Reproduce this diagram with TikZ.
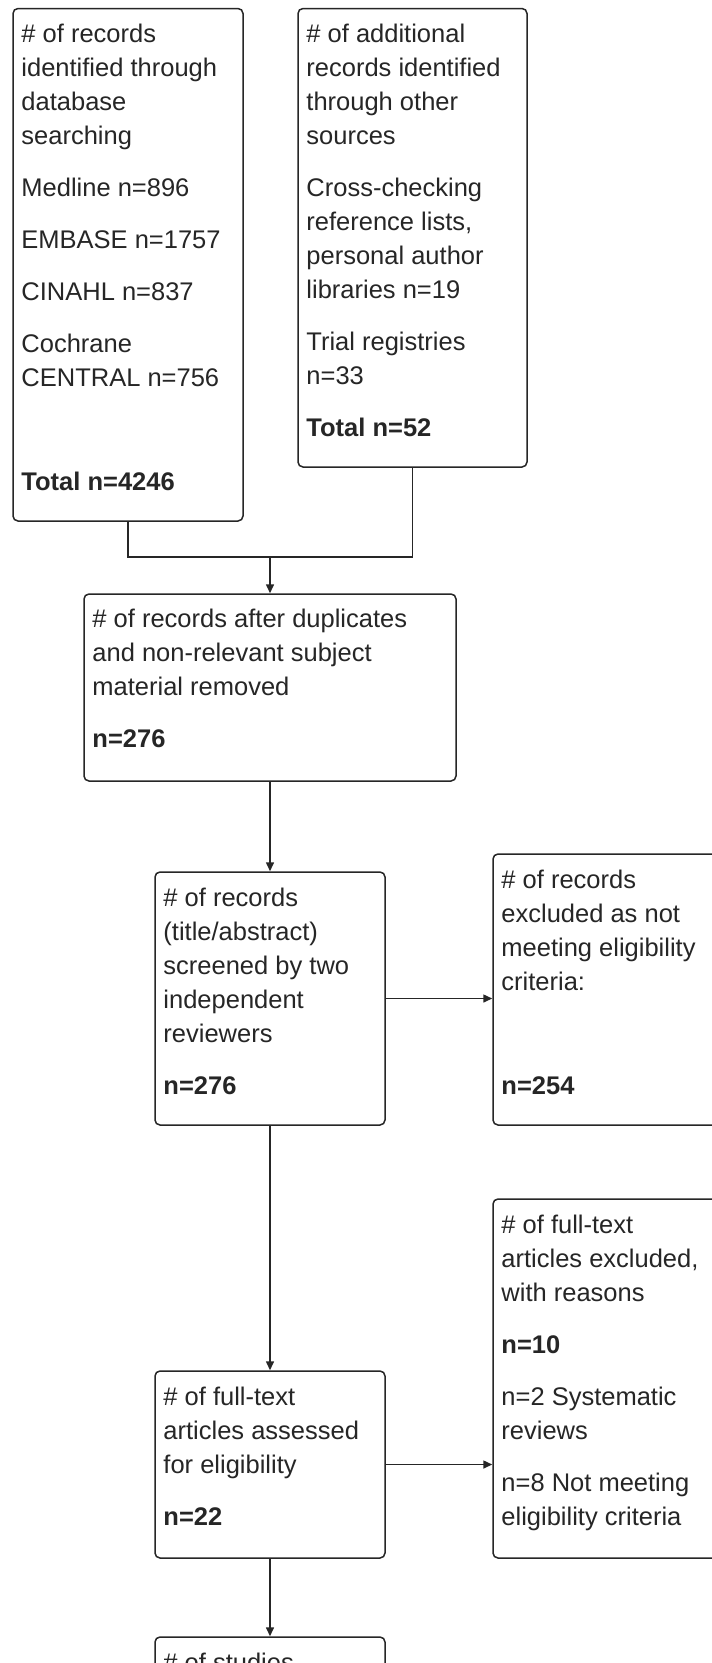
\documentclass[tikz,border=0pt]{standalone}
\usepackage{fontspec}
\setmainfont{Liberation Sans}
\usetikzlibrary{arrows.meta}
\begin{document}
\begin{tikzpicture}[x=1pt,y=-1pt,
  box/.style={draw=black!85, line width=1.5pt, rounded corners=5pt, inner sep=0pt, fill=white},
  txt/.style={anchor=north west, align=left, inner sep=0pt, text=black!85, font=\fontsize{25.5}{34}\selectfont},
  arr/.style={-{Triangle[length=9pt,width=8pt]}},
  conn/.style={draw=black!85, line width=1.5pt}]
\clip (0,0) rectangle (712,1663);
\fill[white] (0,0) rectangle (712,1663);
% boxes
\node[box, minimum width=230pt, minimum height=512.5pt] (A) at (128,264.75) {};
\node[box, minimum width=229pt, minimum height=458.5pt] (B) at (412.5,237.75) {};
\node[box, minimum width=372pt, minimum height=187pt] (C) at (270,687.5) {};
\node[box, minimum width=230pt, minimum height=253pt] (D) at (270,998.5) {};
\node[box, minimum width=267pt, minimum height=271pt] (E) at (626.5,989.5) {};
\node[box, minimum width=230pt, minimum height=187pt] (F) at (270,1464.5) {};
\node[box, minimum width=267pt, minimum height=359pt] (G) at (626.5,1378.5) {};
\node[box, minimum width=230pt, minimum height=163pt] (H) at (270,1718.5) {};
% texts (first baseline about 35pt below the box top)
\node[txt] (tA) at ([xshift=9pt,yshift=-11.2pt]A.north west) {\strut\# of records\\identified through\\database\\searching\\[18pt]Medline n=896\\[18pt]EMBASE n=1757\\[18pt]CINAHL n=837\\[18pt]Cochrane\\CENTRAL n=756\\[18pt]\mbox{}\\[18pt]\textbf{Total n=4246}};
\node[txt] (tB) at ([xshift=9pt,yshift=-11.2pt]B.north west) {\strut\# of additional\\records identified\\through other\\sources\\[18pt]Cross-checking\\reference lists,\\personal author\\libraries n=19\\[18pt]Trial registries\\n=33\\[18pt]\textbf{Total n=52}};
\node[txt] (tC) at ([xshift=9pt,yshift=-10.2pt]C.north west) {\strut\# of records after duplicates\\and non-relevant subject\\material removed\\[18pt]\textbf{n=276}};
\node[txt] (tD) at ([xshift=9pt,yshift=-11.2pt]D.north west) {\strut\# of records\\(title/abstract)\\screened by two\\independent\\reviewers\\[18pt]\textbf{n=276}};
\node[txt] (tE) at ([xshift=9pt,yshift=-11.2pt]E.north west) {\strut\# of records\\excluded as not\\meeting eligibility\\criteria:\\[18pt]\mbox{}\\[18pt]\textbf{n=254}};
\node[txt] (tF) at ([xshift=9pt,yshift=-11.2pt]F.north west) {\strut\# of full-text\\articles assessed\\for eligibility\\[18pt]\textbf{n=22}};
\node[txt] (tG) at ([xshift=9pt,yshift=-11.2pt]G.north west) {\strut\# of full-text\\articles excluded,\\with reasons\\[18pt]\textbf{n=10}\\[18pt]n=2 Systematic\\reviews\\[18pt]n=8 Not meeting\\eligibility criteria};
\node[txt] (tH) at ([xshift=9pt,yshift=-11.2pt]H.north west) {\strut\# of studies};
% connectors
\coordinate (j) at (270,557);
\draw[conn] (A.south) |- (j) -| (B.south);
\draw[conn,arr] (j) -- (C.north);
\draw[conn,arr] (C.south) -- (D.north);
\draw[conn,arr] (D.east) -- (D.east -| E.west);
\draw[conn,arr] (D.south) -- (F.north);
\draw[conn,arr] (F.east) -- (F.east -| G.west);
\draw[conn,arr] (F.south) -- (H.north);
\end{tikzpicture}
\end{document}
